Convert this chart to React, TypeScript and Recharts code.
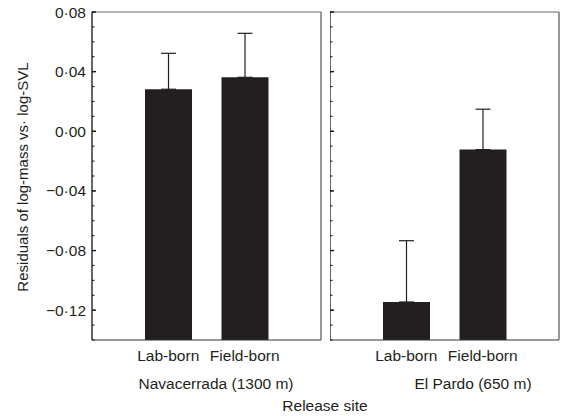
import React from 'react';
import { BarChart, Bar, XAxis, YAxis, ErrorBar } from 'recharts';

// ---- data ----
const groups = ['Lab-born', 'Field-born'];
const navacerradaMeans = [0.0282, 0.0362];
const navacerradaErrors = [0.0241, 0.0295];
const elPardoMeans = [-0.1145, -0.0123];
const elPardoErrors = [0.0411, 0.0271];
const siteNames = ['Navacerrada (1300 m)', 'El Pardo (650 m)'];
const majorTicks = [-0.12, -0.08, -0.04, 0, 0.04, 0.08];
const minorTicks = [
  -0.14, -0.13, -0.12, -0.11, -0.1, -0.09, -0.08, -0.07, -0.06, -0.05, -0.04, -0.03,
  -0.02, -0.01, 0, 0.01, 0.02, 0.03, 0.04, 0.05, 0.06, 0.07, 0.08,
];
const yMin = -0.14;
const yMax = 0.08;
const yTitle = 'Residuals of log-mass vs· log-SVL';
const xTitle = 'Release site';

// ---- style ----
const FONT = '"Liberation Sans", Arial, Helvetica, sans-serif';
const INK = '#231f20';
const THIN = 0.001;

function fmt(v: number) {
  const s = Math.abs(v).toFixed(2).replace('.', '·');
  return v < -1e-9 ? '−' + s : s;
}

function buildRows(means: number[], errs: number[]) {
  return groups.map((g, i) => ({ group: g, range: [yMin, means[i]], err: [0, errs[i]] }));
}

const navRows = buildRows(navacerradaMeans, navacerradaErrors);
const pardoRows = buildRows(elPardoMeans, elPardoErrors);

const emptyTick = () => <g />;

function siteLabel(dx: number) {
  return (props: any) => {
    const vb = props.viewBox || {};
    return (
      <text
        x={vb.x + vb.width / 2 + dx}
        y={vb.y + 48.5}
        textAnchor="middle"
        fill={INK}
        fontSize={15.5}
        fontFamily={FONT}
      >
        {props.value}
      </text>
    );
  };
}

function yTitleLabel(props: any) {
  const vb = props.viewBox || {};
  const cx = vb.x + 22.5;
  const cy = vb.y + vb.height / 2 + 1;
  return (
    <text
      x={cx}
      y={cy}
      transform={`rotate(-90, ${cx}, ${cy})`}
      textAnchor="middle"
      dominantBaseline="central"
      fill={INK}
      fontSize={15}
      fontFamily={FONT}
    >
      {props.value}
    </text>
  );
}

type PanelProps = {
  rows: any[];
  site: string;
  dx: number;
  withLabels: boolean;
  width: number;
  marginRight: number;
};

function Panel({ rows, site, dx, withLabels, width, marginRight }: PanelProps) {
  return (
    <BarChart
      width={width}
      height={416}
      data={rows}
      margin={{ top: 12, right: marginRight, bottom: 0, left: 0 }}
      barSize={47}
    >
      <XAxis
        dataKey="group"
        padding={{ left: 38, right: 38 }}
        tickLine={false}
        tickSize={0}
        tickMargin={10}
        axisLine={{ stroke: '#333', strokeWidth: 1.2 }}
        height={76}
        interval={0}
        tick={{ fill: INK, fontSize: 15.5, fontFamily: FONT }}
        label={{ value: site, content: siteLabel(dx) }}
      />
      <XAxis
        xAxisId="top"
        dataKey="group"
        orientation="top"
        mirror
        height={THIN}
        tick={false}
        tickLine={false}
        axisLine={{ stroke: '#6b6b6b', strokeWidth: 1.2 }}
      />
      {withLabels && (
        <YAxis
          yAxisId="lbl"
          type="number"
          domain={[yMin, yMax]}
          allowDataOverflow
          ticks={majorTicks}
          interval={0}
          width={92}
          tickLine={false}
          tickSize={0}
          tickMargin={6}
          tickFormatter={fmt}
          axisLine={{ stroke: '#111', strokeWidth: 1.3 }}
          tick={{ fill: INK, fontSize: 15.5, fontFamily: FONT }}
          label={{ value: yTitle, content: yTitleLabel }}
        />
      )}
      <YAxis
        yAxisId="major"
        type="number"
        domain={[yMin, yMax]}
        allowDataOverflow
        ticks={majorTicks}
        interval={0}
        mirror
        width={THIN}
        tick={emptyTick}
        tickSize={4}
        tickLine={{ stroke: '#111', strokeWidth: 1.4 }}
        axisLine={withLabels ? false : { stroke: '#111', strokeWidth: 1.3 }}
      />
      <YAxis
        yAxisId="minor"
        type="number"
        domain={[yMin, yMax]}
        allowDataOverflow
        ticks={minorTicks}
        interval={0}
        mirror
        width={THIN}
        tick={emptyTick}
        tickSize={2.5}
        tickLine={{ stroke: '#222', strokeWidth: 1.1 }}
        axisLine={false}
      />
      <YAxis
        yAxisId="edge"
        type="number"
        orientation="right"
        domain={[yMin, yMax]}
        allowDataOverflow
        mirror
        width={THIN}
        tick={false}
        tickLine={false}
        axisLine={{ stroke: '#555', strokeWidth: 1.2 }}
      />
      <Bar yAxisId="major" dataKey="range" fill={INK} isAnimationActive={false}>
        <ErrorBar
          dataKey="err"
          direction="y"
          width={7.5}
          stroke={INK}
          strokeWidth={1.2}
          isAnimationActive={false}
        />
      </Bar>
    </BarChart>
  );
}

export default function App() {
  return (
    <div
      style={{
        position: 'absolute',
        left: 0,
        top: 0,
        width: 564,
        height: 416,
        background: '#fff',
        fontFamily: FONT,
      }}
    >
      <div style={{ position: 'absolute', left: 0, top: 0 }}>
        <Panel rows={navRows} site={siteNames[0]} dx={9.5} withLabels width={330} marginRight={9} />
      </div>
      <div style={{ position: 'absolute', left: 330, top: 0 }}>
        <Panel rows={pardoRows} site={siteNames[1]} dx={28.5} withLabels={false} width={234} marginRight={5} />
      </div>
      <div
        style={{
          position: 'absolute',
          left: 325,
          top: 397,
          transform: 'translateX(-50%)',
          fontSize: 15.5,
          lineHeight: 'normal',
          color: INK,
          whiteSpace: 'nowrap',
        }}
      >
        {xTitle}
      </div>
    </div>
  );
}
